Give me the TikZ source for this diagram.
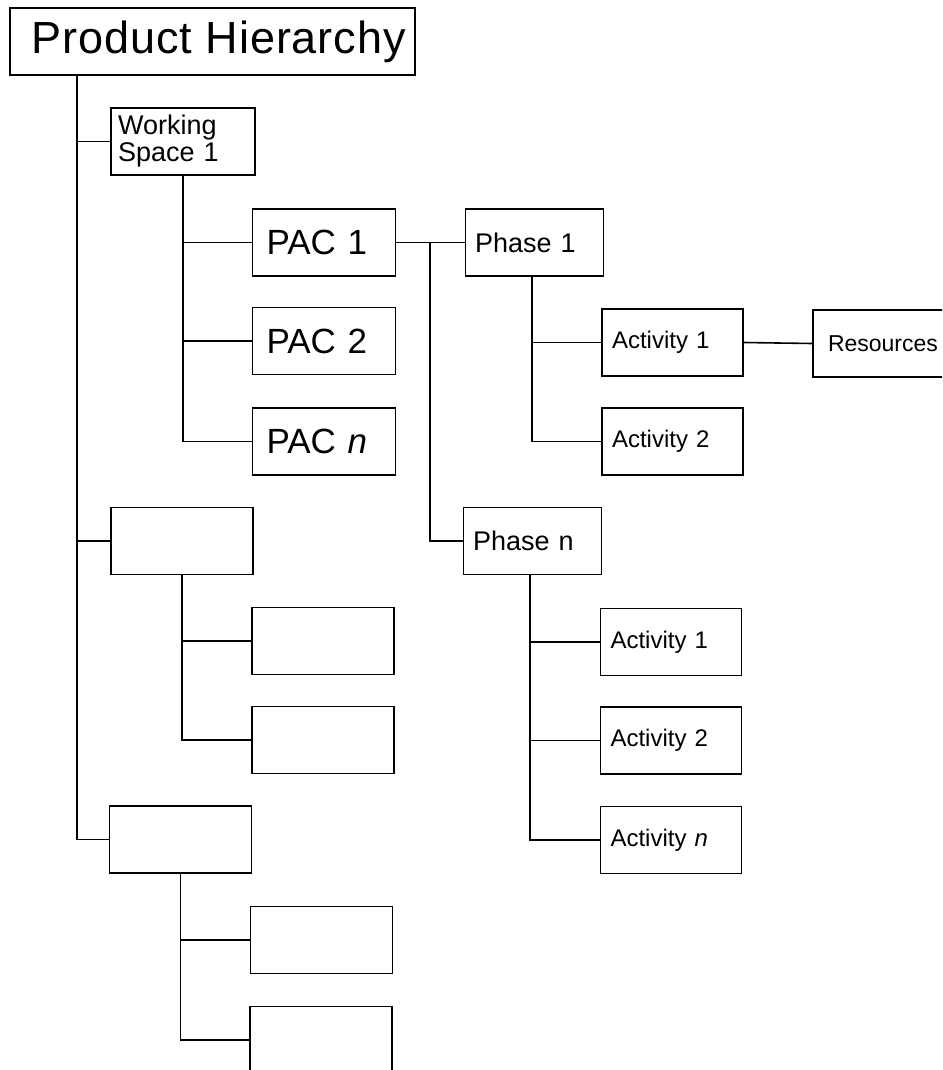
\documentclass[tikz,border=0pt]{standalone}
\usepackage{fontspec}
\setmainfont{Liberation Sans}
\newfontfamily\titlefont[LetterSpace=2]{Liberation Sans}
\begin{document}
\begin{tikzpicture}[x=0.5pt,y=-0.5pt,line width=0.8pt,
  base/.style={draw,rectangle,minimum height=33.5pt,inner ysep=0pt,align=left,anchor=center},
  titlebox/.style={draw,rectangle,minimum height=33.5pt,inner sep=0pt,font=\titlefont\fontsize{22.5}{22.5}\selectfont},
  wsbox/.style={base,inner xsep=3.5pt,text width=65pt,font=\fontsize{13.5}{13.5}\selectfont},
  pacbox/.style={base,inner xsep=7pt,text width=57.5pt,font=\fontsize{17.5}{17.5}\selectfont},
  phasebox/.style={base,inner xsep=4.75pt,text width=59.5pt,font=\fontsize{13.5}{13.5}\selectfont},
  actbox/.style={base,inner xsep=5pt,text width=60.5pt,font=\fontsize{12}{12}\selectfont},
  resbox/.style={base,inner xsep=7.5pt,text width=60pt,font=\fontsize{11.5}{11.5}\selectfont},
  emptybox/.style={draw,rectangle,minimum width=71pt,minimum height=33.5pt,inner sep=0pt}]
\useasboundingbox (0,0) rectangle (942,1070);
\clip (0,0) rectangle (942,1070);
% nodes
\node[titlebox] (title) at (212.5,41.5) {\hbox to 202.5pt{\hskip 11pt Product Hierarchy\hss}};
\node[wsbox] (ws1) at (183,141.5) {Working\\Space 1};
\node[pacbox] (pac1) at (324,242.5) {PAC 1};
\node[pacbox] (pac2) at (324,341) {PAC 2};
\node[pacbox] (pacn) at (324,441.5) {PAC \textit{n}};
\node[phasebox] (ph1) at (534.5,242.5) {Phase 1};
\node[phasebox] (phn) at (532.5,541) {Phase n};
\node[actbox] (a11) at (672.5,342.5) {Activity 1};
\node[actbox] (a12) at (672.5,441.5) {Activity 2};
\node[resbox] (res) at (888,343.5) {Resources};
\node[actbox] (an1) at (671,642) {Activity 1};
\node[actbox] (an2) at (671,740.5) {Activity 2};
\node[actbox] (ann) at (671,840) {Activity \textit{n}};
\node[emptybox] (ws2) at (182,541) {};
\node[emptybox] (b21) at (323,641) {};
\node[emptybox] (b22) at (323,740) {};
\node[emptybox] (ws3) at (180.5,839.5) {};
\node[emptybox] (b31) at (321.5,940) {};
\node[emptybox] (b32) at (321,1040) {};
% junction columns
\coordinate (m) at (77,0);
\coordinate (j) at (430,0);
\coordinate (p1) at (532,0);
\coordinate (pn) at (530,0);
% connectors
\draw (title.south -| m) |- (ws3.west);
\draw (ws1.west -| m) -- (ws1.west);
\draw (ws2.west -| m) -- (ws2.west);
\draw (ws1.south) |- (pacn.west);
\draw (pac1.west -| ws1.south) -- (pac1.west);
\draw (pac2.west -| ws1.south) -- (pac2.west);
\draw (pac1.east) -- (ph1.west);
\draw (pac1.east -| j) |- (phn.west);
\draw (ph1.south -| p1) |- (a12.west);
\draw (a11.west -| p1) -- (a11.west);
\draw (a11.east) -- (res.west);
\draw (phn.south -| pn) |- (ann.west);
\draw (an1.west -| pn) -- (an1.west);
\draw (an2.west -| pn) -- (an2.west);
\draw (ws2.south) |- (b22.west);
\draw (b21.west -| ws2.south) -- (b21.west);
\draw (ws3.south) |- (b32.west);
\draw (b31.west -| ws3.south) -- (b31.west);
\end{tikzpicture}
\end{document}
